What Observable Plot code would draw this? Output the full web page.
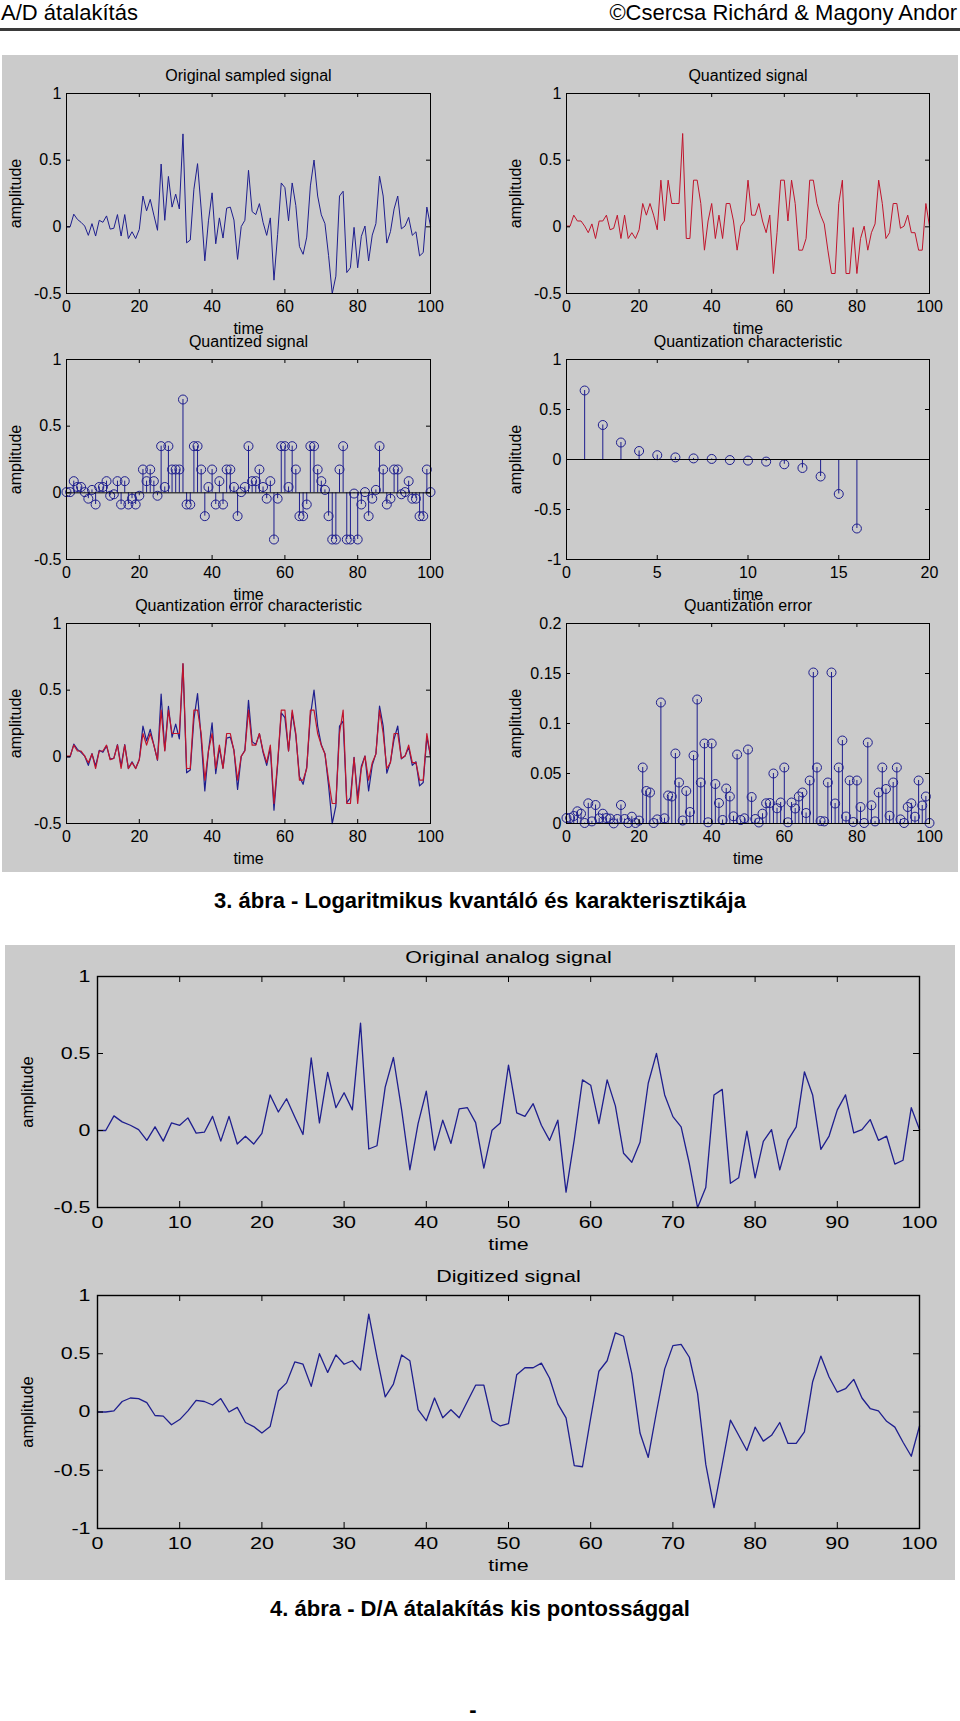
<!DOCTYPE html>
<html><head><meta charset="utf-8">
<script src="https://cdn.jsdelivr.net/npm/d3@7"></script>
<script src="https://cdn.jsdelivr.net/npm/@observablehq/plot@0.6"></script>
<style>
body{margin:0;background:#fff;}
#page{position:relative;width:960px;height:1721px;overflow:hidden;font-family:"Liberation Sans",Arial,sans-serif;color:#000;}
.panel{position:absolute;background:#cbcbcb;}
.hdr{position:absolute;top:0px;font-size:22px;line-height:26px;white-space:nowrap;}
.cap{position:absolute;left:0;width:960px;text-align:center;font-weight:bold;font-size:22px;line-height:26px;white-space:nowrap;}
</style></head>
<body><div id="page">
<div class="hdr" style="left:1px">A/D átalakítás</div>
<div class="hdr" style="right:3px">©Csercsa Richárd &amp; Magony Andor</div>
<div style="position:absolute;left:0;top:28px;width:960px;height:3px;background:#3a3a3a"></div>
<div class="panel" style="left:2px;top:55px;width:956px;height:817px"></div>
<div class="cap" style="top:888px">3. ábra - Logaritmikus kvantáló és karakterisztikája</div>
<div class="panel" style="left:5px;top:945px;width:950px;height:635px"></div>
<div class="cap" style="top:1596px">4. ábra - D/A átalakítás kis pontossággal</div>
<div class="cap" style="top:1702px;left:-7px;line-height:16px">-</div>
</div>
<script>
// ---- data ----
const time = [0,1,2,3,4,5,6,7,8,9,10,11,12,13,14,15,16,17,18,19,20,21,22,23,24,25,26,27,28,29,30,31,32,33,34,35,36,37,38,39,40,41,42,43,44,45,46,47,48,49,50,51,52,53,54,55,56,57,58,59,60,61,62,63,64,65,66,67,68,69,70,71,72,73,74,75,76,77,78,79,80,81,82,83,84,85,86,87,88,89,90,91,92,93,94,95,96,97,98,99,100];

const originalSignal = [0.0,0.0,0.095,0.056,0.034,0.006,-0.064,0.024,-0.069,0.049,
  0.034,0.082,-0.017,-0.011,0.092,-0.069,0.092,-0.088,-0.037,-0.088,
  -0.019,0.231,0.12,0.206,0.088,-0.026,0.471,0.049,0.378,0.148,
  0.245,0.134,0.697,-0.12,-0.099,0.282,0.474,0.134,-0.255,0.045,
  0.255,-0.127,0.067,-0.084,0.14,0.148,0.051,-0.244,0.002,0.049,
  0.424,0.114,0.092,0.174,0.034,-0.064,0.067,-0.4,-0.059,0.329,
  0.294,0.045,0.329,0.16,-0.148,-0.206,-0.077,0.307,0.501,0.231,
  0.09,0.024,-0.216,-0.501,-0.37,0.231,0.267,-0.343,-0.307,-0.004,
  -0.307,-0.071,0.006,-0.256,-0.062,0.024,0.381,0.231,-0.122,-0.036,
  0.134,0.231,-0.015,0.006,0.071,-0.064,-0.037,-0.218,-0.193,0.148,
  0.006];

const quantizedSignal = [0.0055,0.0055,0.0875,0.0438,0.0438,0.0055,-0.0438,0.0219,-0.0875,0.0438,
  0.0438,0.0875,-0.0219,-0.0109,0.0875,-0.0875,0.0875,-0.0875,-0.0438,-0.0875,
  -0.0219,0.175,0.0875,0.175,0.0875,-0.0219,0.35,0.0438,0.35,0.175,
  0.175,0.175,0.7,-0.0875,-0.0875,0.35,0.35,0.175,-0.175,0.0438,
  0.175,-0.0875,0.0875,-0.0875,0.175,0.175,0.0438,-0.175,0.0055,0.0438,
  0.35,0.0875,0.0875,0.175,0.0438,-0.0438,0.0875,-0.35,-0.0438,0.35,
  0.35,0.0438,0.35,0.175,-0.175,-0.175,-0.0875,0.35,0.35,0.175,
  0.0875,0.0219,-0.175,-0.35,-0.35,0.175,0.35,-0.35,-0.35,-0.0055,
  -0.35,-0.0875,0.0055,-0.175,-0.0438,0.0219,0.35,0.175,-0.0875,-0.0438,
  0.175,0.175,-0.0109,0.0055,0.0875,-0.0438,-0.0438,-0.175,-0.175,0.175,
  0.0055];

const quantizationError = [0.0055,0.0055,0.0075,0.0122,0.0098,0.0005,0.0202,0.0021,0.0185,0.0052,
  0.0098,0.0055,0.0049,0.0001,0.0045,0.0185,0.0045,0.0005,0.0068,0.0005,
  0.0029,0.056,0.0325,0.031,0.0005,0.0041,0.121,0.0052,0.028,0.027,
  0.07,0.041,0.003,0.0325,0.0115,0.068,0.124,0.041,0.08,0.0012,
  0.08,0.0395,0.0205,0.0035,0.035,0.027,0.0072,0.069,0.0035,0.0052,
  0.074,0.0265,0.0045,0.001,0.0098,0.0202,0.0205,0.05,0.0152,0.021,
  0.056,0.0012,0.021,0.015,0.027,0.031,0.0105,0.043,0.151,0.056,
  0.0025,0.0021,0.041,0.151,0.02,0.056,0.083,0.007,0.043,0.0015,
  0.043,0.0165,0.0005,0.081,0.0182,0.0021,0.031,0.056,0.0345,0.0078,
  0.041,0.056,0.0041,0.0005,0.0165,0.0202,0.0068,0.043,0.018,0.027,
  0.0005];

const levelIndex = [1,2,3,4,5,6,7,8,9,10,11,12,13,14,15,16];
const levelValue = [0.69,0.345,0.17,0.085,0.043,0.021,0.011,0.0055,-0.0055,-0.011,-0.021,-0.048,-0.085,-0.17,-0.345,-0.69];

const digitizedSignal = [0,0,0.01,0.09,0.12,0.115,0.08,-0.03,-0.035,-0.11,
  -0.065,0.01,0.1,0.09,0.06,0.115,0.0,0.04,-0.09,-0.125,
  -0.18,-0.125,0.18,0.25,0.43,0.41,0.22,0.5,0.34,0.49,
  0.41,0.44,0.36,0.84,0.47,0.13,0.24,0.49,0.44,0.02,
  -0.075,0.12,-0.05,0.02,-0.05,0.09,0.23,0.23,-0.075,-0.12,
  -0.1,0.32,0.38,0.38,0.42,0.29,0.07,-0.05,-0.46,-0.47,
  -0.05,0.35,0.44,0.68,0.65,0.33,-0.18,-0.39,0.0,0.37,
  0.57,0.58,0.47,0.16,-0.45,-0.82,-0.45,-0.07,-0.2,-0.33,
  -0.13,-0.25,-0.2,-0.09,-0.27,-0.27,-0.17,0.26,0.48,0.3,
  0.17,0.2,0.28,0.12,0.03,0.01,-0.08,-0.13,-0.26,-0.38,
  -0.12];

const ticksTime100 = [0,20,40,60,80,100];
const ticksTime10 = [0,10,20,30,40,50,60,70,80,90,100];
const ticksTime20 = [0,5,10,15,20];
const ticksAmp = [-0.5,0,0.5,1];
const ticksAmp2 = [-1,-0.5,0,0.5,1];
const ticksErr = [0,0.05,0.1,0.15,0.2];

// ---- tables ----
const rows = time.map((t, i) => ({t, orig: originalSignal[i], quant: quantizedSignal[i], err: quantizationError[i], dig: digitizedSignal[i]}));
const levels = levelIndex.map((k, i) => ({k, v: levelValue[i]}));

const BLUE = "#1e1e8e", RED = "#c0142c";
const page = document.getElementById("page");
const fmt = d => String(d);

function sub(o) {
  const innerW = o.width - o.mL - o.mR, innerH = o.height - o.mT - o.mB;
  const svg = Plot.plot({
    width: o.width, height: o.height,
    marginLeft: o.mL, marginRight: o.mR, marginTop: o.mT, marginBottom: o.mB,
    style: {background: "transparent", fontFamily: "Liberation Sans, Arial, sans-serif", fontSize: o.fontSize + "px", color: "#000", overflow: "visible"},
    x: {domain: o.xDomain, ticks: o.xTicks, tickFormat: fmt, tickSize: 0, tickPadding: o.xPad, label: null},
    y: {domain: o.yDomain, ticks: o.yTicks, tickFormat: fmt, tickSize: 0, tickPadding: o.yPad, label: null},
    marks: [
      ...o.marks,
      Plot.frame({stroke: "#000", strokeWidth: o.frameW}),
      Plot.tickX(o.xTicks, {x: d => d, insetTop: innerH - o.tickLen, stroke: "#000"}),
      Plot.tickX(o.xTicks, {x: d => d, insetBottom: innerH - o.tickLen, stroke: "#000"}),
      Plot.tickY(o.yTicks, {y: d => d, insetRight: innerW - o.tickLen, stroke: "#000"}),
      Plot.tickY(o.yTicks, {y: d => d, insetLeft: innerW - o.tickLen, stroke: "#000"}),
      Plot.text([o.title], {text: d => d, frameAnchor: "top", dy: o.titleDy, lineAnchor: "middle", textAnchor: "middle"}),
      Plot.text(["time"], {text: d => d, frameAnchor: "bottom", dy: o.timeDy, lineAnchor: "middle", textAnchor: "middle"}),
      Plot.text(["amplitude"], {text: d => d, frameAnchor: "left", dx: o.ampDx, rotate: -90, lineAnchor: "middle", textAnchor: "middle"})
    ]
  });
  svg.style.position = "absolute";
  svg.style.left = o.left + "px";
  svg.style.top = o.top + "px";
  page.appendChild(svg);
  if (o.stretch) {
    svg.querySelectorAll("text").forEach(el => {
      if (el.textContent === "amplitude") return;
      const w = el.getComputedTextLength();
      if (w > 0) {
        el.setAttribute("textLength", (w * o.stretch).toFixed(1));
        el.setAttribute("lengthAdjust", "spacingAndGlyphs");
      }
    });
  }
  return svg;
}

const fig3 = {fontSize: 16, tickLen: 4, xPad: 7, yPad: 5, frameW: 1, titleDy: -18, timeDy: 35, ampDx: -51, width: 480, height: 285, mT: 40, mB: 45};
const colL = {left: 0, mL: 66, mR: 50};
const colR = {left: 480, mL: 86, mR: 31};
const rowTop = [93 - 40, 359 - 40, 623 - 40];

sub({...fig3, ...colL, top: rowTop[0], title: "Original sampled signal",
  xDomain: [0, 100], xTicks: ticksTime100, yDomain: [-0.5, 1], yTicks: ticksAmp,
  marks: [Plot.line(rows, {x: "t", y: "orig", stroke: BLUE, strokeWidth: 1})]});

sub({...fig3, ...colR, top: rowTop[0], title: "Quantized signal",
  xDomain: [0, 100], xTicks: ticksTime100, yDomain: [-0.5, 1], yTicks: ticksAmp,
  marks: [Plot.line(rows, {x: "t", y: "quant", stroke: RED, strokeWidth: 1})]});

sub({...fig3, ...colL, top: rowTop[1], title: "Quantized signal",
  xDomain: [0, 100], xTicks: ticksTime100, yDomain: [-0.5, 1], yTicks: ticksAmp,
  marks: [
    Plot.ruleX(rows, {x: "t", y1: 0, y2: "quant", stroke: BLUE, strokeWidth: 1}),
    Plot.dot(rows, {x: "t", y: "quant", r: 4.5, stroke: BLUE, fill: "none", strokeWidth: 1}),
    Plot.ruleY([0], {stroke: "#000", strokeWidth: 1})
  ]});

sub({...fig3, ...colR, top: rowTop[1], title: "Quantization characteristic",
  xDomain: [0, 20], xTicks: ticksTime20, yDomain: [-1, 1], yTicks: ticksAmp2,
  marks: [
    Plot.ruleX(levels, {x: "k", y1: 0, y2: "v", stroke: BLUE, strokeWidth: 1}),
    Plot.dot(levels, {x: "k", y: "v", r: 4.5, stroke: BLUE, fill: "none", strokeWidth: 1}),
    Plot.ruleY([0], {stroke: "#000", strokeWidth: 1.2})
  ]});

sub({...fig3, ...colL, top: rowTop[2], title: "Quantization error characteristic",
  xDomain: [0, 100], xTicks: ticksTime100, yDomain: [-0.5, 1], yTicks: ticksAmp,
  marks: [
    Plot.line(rows, {x: "t", y: "orig", stroke: BLUE, strokeWidth: 1.2}),
    Plot.line(rows, {x: "t", y: "quant", stroke: RED, strokeWidth: 1.2})
  ]});

sub({...fig3, ...colR, top: rowTop[2], title: "Quantization error",
  xDomain: [0, 100], xTicks: ticksTime100, yDomain: [0, 0.2], yTicks: ticksErr,
  marks: [
    Plot.ruleX(rows, {x: "t", y1: 0, y2: "err", stroke: BLUE, strokeWidth: 1}),
    Plot.dot(rows, {x: "t", y: "err", r: 4.5, stroke: BLUE, fill: "none", strokeWidth: 1})
  ]});

const fig4 = {fontSize: 16.5, stretch: 1.3, tickLen: 6, xPad: 9, yPad: 7, frameW: 1.4, titleDy: -19, timeDy: 37, ampDx: -70, width: 960, left: 0, mL: 97, mR: 41, mT: 40, mB: 50};

sub({...fig4, top: 976 - 40, height: 231 + 90, title: "Original analog signal",
  xDomain: [0, 100], xTicks: ticksTime10, yDomain: [-0.5, 1], yTicks: ticksAmp,
  marks: [Plot.line(rows, {x: "t", y: "orig", stroke: BLUE, strokeWidth: 1.3})]});

sub({...fig4, top: 1295 - 40, height: 233 + 90, title: "Digitized signal",
  xDomain: [0, 100], xTicks: ticksTime10, yDomain: [-1, 1], yTicks: ticksAmp2,
  marks: [Plot.line(rows, {x: "t", y: "dig", stroke: BLUE, strokeWidth: 1.3})]});
</script>
</body></html>
